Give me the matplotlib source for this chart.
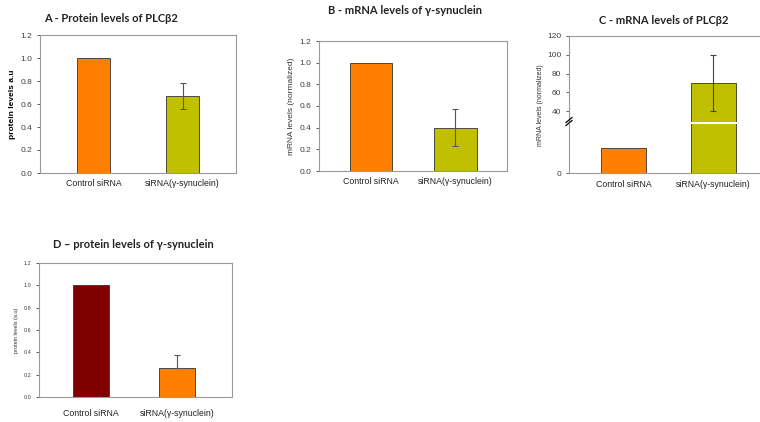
import matplotlib
matplotlib.use('Agg')
import matplotlib.pyplot as plt

groups = ['Control siRNA', 'siRNA(γ-synuclein)']

# A - protein levels of PLCb2
a_values = [1.0, 0.67]
a_err = [0.0, 0.11]
# B - mRNA levels of gamma-synuclein
b_values = [1.0, 0.40]
b_err = [0.0, 0.17]
# C - mRNA levels of PLCb2 (broken axis: control on lower scale)
c_values = [1.0, 70.0]
c_err = [0.0, 30.0]
# D - protein levels of gamma-synuclein
d_values = [1.0, 0.26]
d_err = [0.0, 0.12]

orange = '#ff8000'
olive = '#c0c000'
darkred = '#800000'
frame = '#999999'
tickcol = '#404040'

W, H = 760, 422


def rect(x0, y0, x1, y1):
    return [x0 / W, 1 - y1 / H, (x1 - x0) / W, (y1 - y0) / H]


def style(ax, fs):
    for s in ax.spines.values():
        s.set_color(frame)
        s.set_linewidth(0.8)
    ax.tick_params(axis='both', labelsize=fs, colors=tickcol, length=2, width=0.6)


def bar_panel(ax, values, err, colors, width, xlim, fs_y, fs_x, upper_only=False, xpad=4):
    x = [0, 1]
    ax.bar(x, values, width=width, color=colors, edgecolor='#333333', linewidth=0.6)
    if upper_only:
        ax.errorbar(x[1], values[1], yerr=[[0], [err[1]]], fmt='none', ecolor='#555555',
                    elinewidth=0.8, capsize=2.5, capthick=0.8)
    else:
        ax.errorbar(x[1], values[1], yerr=err[1], fmt='none', ecolor='#555555',
                    elinewidth=0.8, capsize=2.5, capthick=0.8)
    ax.set_xlim(*xlim)
    ax.set_ylim(0, 1.2)
    ax.set_yticks([0, 0.2, 0.4, 0.6, 0.8, 1.0, 1.2])
    ax.set_yticklabels(['0.0', '0.2', '0.4', '0.6', '0.8', '1.0', '1.2'])
    ax.set_xticks(x)
    ax.set_xticklabels(groups)
    style(ax, fs_y)
    ax.tick_params(axis='x', labelsize=fs_x, colors='#222222', length=0, pad=xpad)


plt.rcParams['font.family'] = ['Liberation Sans', 'DejaVu Sans']
fig = plt.figure(figsize=(7.6, 4.22), dpi=100)

# Panel A
axA = fig.add_axes(rect(40, 35, 236, 173))
bar_panel(axA, a_values, a_err, [orange, olive], 0.37, (-0.6, 1.6), 6, 6.3)
axA.set_ylabel('protein levels a.u', fontsize=6, fontweight='bold', labelpad=3)

# Panel B
axB = fig.add_axes(rect(319, 41, 507, 171))
bar_panel(axB, b_values, b_err, [orange, olive], 0.5, (-0.615, 1.61), 6, 6.3)
axB.set_ylabel('mRNA levels (normalized)', fontsize=6, color='#333333', labelpad=3)

# Panel D
axD = fig.add_axes(rect(39, 263, 232, 397))
bar_panel(axD, d_values, d_err, [darkred, orange], 0.42, (-0.6, 1.64), 4, 6.3,
          upper_only=True, xpad=9)
axD.set_ylabel('protein levels (a.u)', fontsize=4, color='#333333', labelpad=3)

# Panel C: broken y axis
c_x = [0, 1]
axCu = fig.add_axes(rect(569, 36, 768, 122))
axCl = fig.add_axes(rect(569, 123.5, 768, 173))
for ax in (axCu, axCl):
    ax.bar(c_x, c_values, width=0.5, color=[orange, olive], edgecolor='#333333', linewidth=0.6)
    ax.set_xlim(-0.61, 1.61)
    style(ax, 6)
axCu.errorbar(c_x[1], c_values[1], yerr=c_err[1], fmt='none', ecolor='#444444',
              elinewidth=0.8, capsize=2.5, capthick=0.8)
axCu.set_ylim(28.3, 120)
axCu.set_yticks([40, 60, 80, 100, 120])
axCu.set_xticks([])
axCu.spines['bottom'].set_visible(False)
axCl.set_ylim(0, 2.0)
axCl.set_yticks([0])
axCl.spines['top'].set_visible(False)
axCl.set_xticks(c_x)
axCl.set_xticklabels(groups)
axCl.tick_params(axis='x', labelsize=6.3, colors='#222222', length=0, pad=5)
# break marks on the left spine
for dy in (-1.5, 1.5):
    fig.add_artist(plt.Line2D([566 / W, 572 / W], [1 - (124 + dy) / H, 1 - (119 + dy) / H],
                              color='black', lw=0.9))
fig.text(541 / W, 1 - 105 / H, 'mRNA levels (normalized)', fontsize=5, color='#333333',
         rotation=90, ha='center', va='center')

# Titles
tfont = ['Lato', 'DejaVu Sans']
tkw = dict(fontsize=8, fontweight='bold', family=tfont, ha='center', va='center', color='#222222')
fig.text(111 / W, 1 - 19 / H, 'A - Protein levels of PLCβ2', **tkw)
fig.text(405 / W, 1 - 11 / H, 'B - mRNA levels of γ-synuclein', **tkw)
fig.text(664 / W, 1 - 20 / H, 'C - mRNA levels of PLCβ2', **tkw)
fig.text(133 / W, 1 - 244 / H, 'D – protein levels of γ-synuclein', **tkw)

fig.savefig('out.png', dpi=100)
